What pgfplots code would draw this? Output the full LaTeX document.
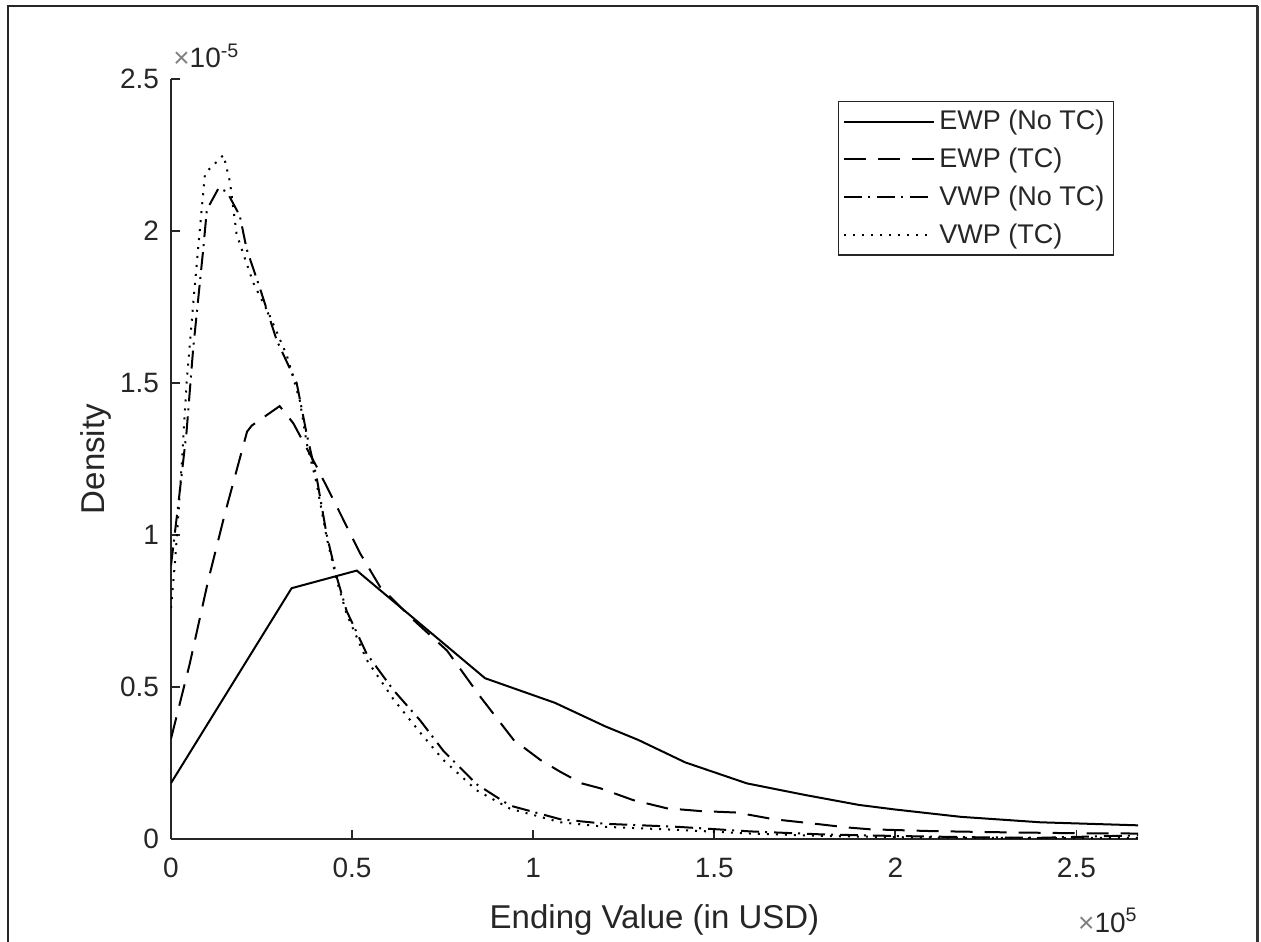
\documentclass[border=0pt]{standalone}
\usepackage{fontspec}
\setmainfont{Liberation Sans}
\usepackage{pgfplots}
\pgfplotsset{compat=1.18}
\definecolor{axgray}{rgb}{0.15,0.15,0.15}
\begin{document}
\begin{tikzpicture}
\useasboundingbox (0pt,0pt) rectangle (630.5pt,-470.5pt);
\draw[line width=1pt, black!85] (4.15pt,-471pt) -- (4.15pt,-3pt) -- (628.8pt,-3pt);
\draw[line width=1.5pt, black!80] (628.8pt,-3pt) -- (628.8pt,-471pt);
\begin{axis}[
  at={(85.5pt,-419.5pt)}, anchor=south west,
  width=483.5pt, height=380pt, scale only axis,
  xmin=0, xmax=2.67, ymin=0, ymax=2.5,
  clip mode=individual,
  axis x line*=bottom, axis y line*=left,
  axis line style={axgray, line width=0.9pt},
  every tick/.style={axgray, line width=0.9pt},
  tick align=inside, major tick length=4.5pt,
  xtick={0,0.5,1,1.5,2,2.5}, ytick={0,0.5,1,1.5,2,2.5},
  /pgf/number format/assume math mode=true,
  tick label style={font=\fontsize{14}{16}\selectfont, text=axgray},
  xticklabel style={yshift=-6pt},
  yticklabel style={xshift=-2.5pt},
  xlabel={Ending Value (in USD)},
  ylabel={Density},
  label style={font=\fontsize{16.5}{19}\selectfont, text=axgray},
  xlabel style={at={(axis description cs:0.5,-0.1184)}, anchor=base},
  ylabel style={at={(axis description cs:-0.0688,0.5)}, anchor=base},
  legend style={at={(rel axis cs:0.9752,0.971)}, anchor=north east,
    draw=axgray, line width=0.7pt, fill=white,
    font=\fontsize{13.5}{16}\selectfont, text=axgray,
    inner xsep=2.5pt, inner ysep=0.5pt, row sep=0pt,
    nodes={inner xsep=2pt, inner ysep=3.8pt},
    legend cell align=left},
  legend image code/.code={\draw[#1, line width=1pt] (0pt,0pt) -- (45pt,0pt);},
]
\addplot[black, line width=1pt] coordinates {
(0,0.184) (0.333,0.825) (0.513,0.883) (0.867,0.529) (1.06,0.448)
(1.2,0.37) (1.29,0.326) (1.42,0.252) (1.59,0.183) (1.75,0.145)
(1.9,0.112) (2.0,0.097) (2.18,0.073) (2.4,0.055) (2.67,0.045)
};
\addlegendentry{EWP (No TC)}
\addplot[black, line width=1pt, dash pattern=on 11pt off 6pt] coordinates {
(0,0.33) (0.052,0.578) (0.103,0.852) (0.149,1.071) (0.21,1.34) (0.223,1.36)
(0.30,1.424) (0.338,1.367) (0.402,1.225) (0.458,1.093) (0.522,0.94)
(0.577,0.83) (0.67,0.72) (0.762,0.62) (0.854,0.468) (0.946,0.326)
(1.02,0.26) (1.075,0.221) (1.134,0.183) (1.185,0.167) (1.276,0.128)
(1.369,0.101) (1.461,0.092) (1.563,0.087) (1.664,0.065) (1.765,0.052)
(1.867,0.038) (1.93,0.032) (2.1,0.026) (2.3,0.022) (2.5,0.019) (2.67,0.018)
};
\addlegendentry{EWP (TC)}
\addplot[black, line width=1pt, dash pattern=on 9pt off 3pt on 1pt off 3.5pt] coordinates {
(0,0.9) (0.02,1.1) (0.043,1.34) (0.061,1.61) (0.089,1.94) (0.099,2.07)
(0.131,2.14) (0.154,2.13) (0.19,2.05) (0.209,1.94) (0.246,1.81)
(0.292,1.64) (0.347,1.50) (0.375,1.33) (0.402,1.19) (0.43,1.0)
(0.458,0.86) (0.485,0.75) (0.54,0.61) (0.614,0.49) (0.688,0.39)
(0.752,0.29) (0.844,0.18) (0.936,0.11) (1.075,0.065) (1.2,0.05)
(1.4,0.04) (1.6,0.025) (1.8,0.015) (2.0,0.01) (2.2,0.006) (2.4,0.004)
(2.6,0.01) (2.67,0.012)
};
\addlegendentry{VWP (No TC)}
\addplot[black, line width=1pt, dash pattern=on 1pt off 3.5pt] coordinates {
(0,0.76) (0.011,0.91) (0.02,1.06) (0.03,1.24) (0.043,1.50) (0.062,1.77)
(0.08,2.01) (0.094,2.19) (0.145,2.25) (0.163,2.16) (0.181,1.99)
(0.227,1.83) (0.273,1.72) (0.32,1.59) (0.356,1.44) (0.375,1.30)
(0.402,1.17) (0.43,0.99) (0.458,0.85) (0.485,0.74) (0.54,0.59)
(0.614,0.46) (0.688,0.35) (0.752,0.26) (0.844,0.16) (0.936,0.10)
(1.075,0.055) (1.2,0.04) (1.4,0.03) (1.6,0.018) (1.8,0.01) (2.0,0.006)
(2.2,0.004) (2.4,0.003) (2.67,0.004)
};
\addlegendentry{VWP (TC)}
\node[anchor=base west, inner sep=0pt, text=axgray, font=\fontsize{14}{16}\selectfont]
  at (axis description cs:0.002,1.0145) {{\color{black!50}×}10\textsuperscript{-5}};
\node[anchor=base east, inner sep=0pt, text=axgray, font=\fontsize{14}{16}\selectfont]
  at (axis description cs:1,-0.1224) {{\color{black!50}×}10\textsuperscript{5}};
\end{axis}
\end{tikzpicture}
\end{document}
